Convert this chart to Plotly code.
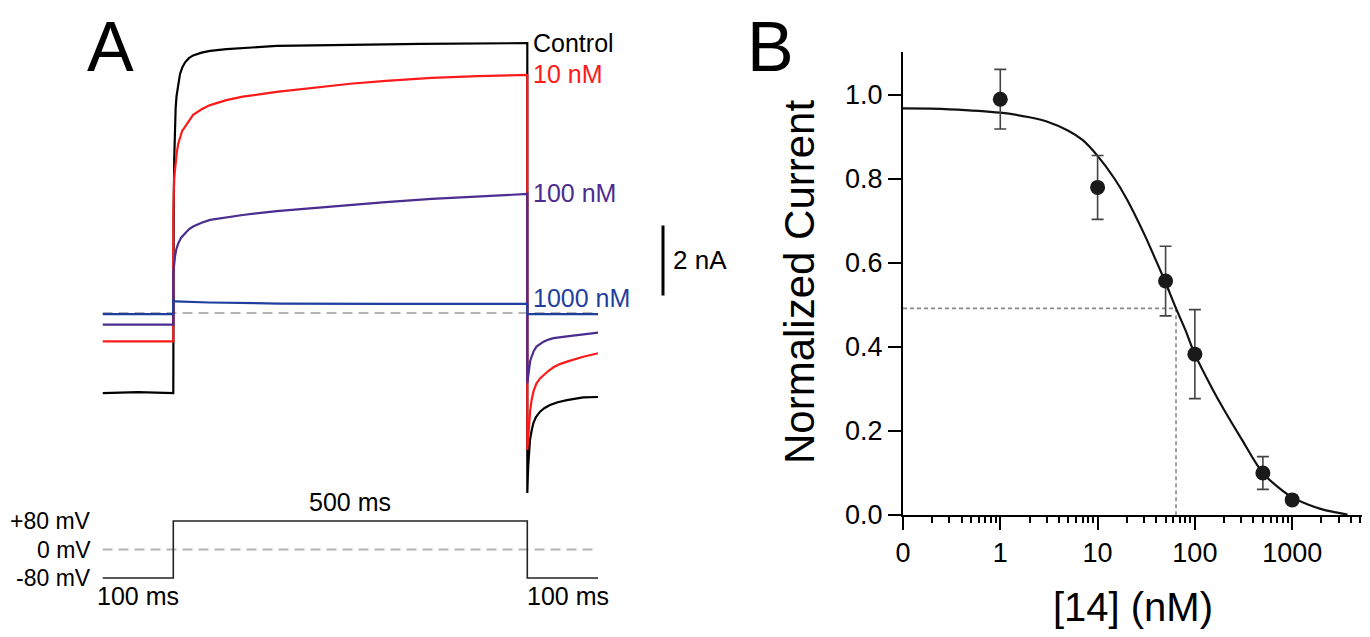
import plotly.graph_objects as go

W, H = 1370, 637          # reference frame
PAD = 8                   # page body margin around the plot div
FW, FH = W - PAD, H - PAD
FONT = "Liberation Sans, Arial, sans-serif"

# ---- Panel A: current traces (time in ms, current in nA) ----
t_control = [0, 50, 100, 100, 100.6, 101.3, 102.2, 103.3, 104.6, 106.5, 109.5, 113, 117, 122, 128, 140,
             152, 175, 198, 246, 350, 450, 600,
             600, 600.7, 601.4, 602.5, 603.8, 606, 608.5, 612, 618, 624, 632, 643, 656, 679, 700]
i_control = [-2.29, -2.26, -2.29, 1.0, 3.0, 4.4, 5.3, 5.85, 6.2, 6.5, 6.83, 7.03, 7.17, 7.28, 7.36, 7.44,
             7.49, 7.54, 7.57, 7.63, 7.66, 7.69, 7.71,
             -5.14, -4.7, -4.34, -3.95, -3.63, -3.37, -3.15, -2.98, -2.82, -2.72, -2.63, -2.55, -2.49, -2.41, -2.40]

t_10nM = [0, 100, 100, 100.5, 101.2, 102.4, 103.5, 104.8, 106.8, 109.5, 112.5, 116.5, 122, 128, 140, 152,
          175, 198, 246, 300, 350, 400, 465, 530, 600,
          600, 601, 602, 602.8, 604, 606, 609, 613, 618, 623, 630, 637, 646, 656, 679, 700]
i_10nM = [-0.81, -0.81, 2.8, 3.5, 3.85, 4.09, 4.34, 4.56, 4.82, 5.04, 5.2, 5.32, 5.5, 5.66, 5.82, 5.94,
          6.08, 6.18, 6.32, 6.43, 6.55, 6.63, 6.72, 6.77, 6.80,
          -3.91, -3.7, -3.45, -3.15, -2.8, -2.49, -2.22, -2.01, -1.87, -1.77, -1.65, -1.55, -1.46, -1.39, -1.25, -1.15]

t_100nM = [0, 100, 100, 100.6, 101.4, 102.4, 104, 107, 111, 116.5, 122, 128, 140, 152, 175, 198, 246,
           300, 350, 400, 465, 530, 600,
           600, 601, 602, 602.8, 604, 606, 609, 613, 618, 623, 630, 637, 656, 679, 700]
i_100nM = [-0.33, -0.33, 1.15, 1.35, 1.48, 1.61, 1.8, 1.99, 2.15, 2.28, 2.39, 2.47, 2.58, 2.66, 2.74, 2.80, 2.91,
           3.00, 3.09, 3.17, 3.26, 3.33, 3.40,
           -2.01, -1.85, -1.68, -1.53, -1.38, -1.25, -1.09, -0.96, -0.88, -0.82, -0.76, -0.72, -0.67, -0.62, -0.56]

t_1000nM = [0, 100, 100, 103, 150, 250, 400, 600, 600, 700]
i_1000nM = [-0.03, -0.03, 0.36, 0.33, 0.30, 0.27, 0.26, 0.26, -0.03, -0.03]

trace_names = ["Control", "10 nM", "100 nM", "1000 nM"]
trace_colors = ["#000000", "#ff1a1a", "#4b2c90", "#1f3f9f"]
label_levels = [7.71, 6.83, 3.43, 0.43]   # nA, where each label sits

# voltage protocol
t_volt = [0, 100, 100, 600, 600, 700]
v_volt = [-80, -80, 80, 80, -80, -80]

# ---- Panel B: concentration-response ----
conc = [1, 10, 50, 100, 500, 1000]
norm_current = [0.99, 0.78, 0.557, 0.383, 0.10, 0.036]
norm_sem = [0.071, 0.076, 0.083, 0.106, 0.039, 0.0]

fit_conc = [0.1, 0.3, 1, 2, 3, 5, 7, 10, 15, 20, 30, 40, 50, 64, 80, 100, 150, 200, 300, 500, 700,
            1000, 1500, 2000, 3000, 3700]
fit_norm = [0.968, 0.966, 0.958, 0.947, 0.937, 0.915, 0.893, 0.855, 0.800, 0.752, 0.670, 0.605, 0.553,
            0.492, 0.440, 0.383, 0.302, 0.250, 0.182, 0.100, 0.068, 0.042, 0.024, 0.014, 0.005, 0.001]
ic50 = 64
half_level = 0.492


def px(x):
    # reference pixel -> paper fraction
    return (x - PAD) / FW


def py(y):
    return 1 - (y - PAD) / FH


fig = go.Figure()

# zero-current reference
fig.add_trace(go.Scatter(x=[0, 700], y=[0, 0], mode="lines",
                         line=dict(color="#b4b4b4", width=2, dash="10px,6px"),
                         xaxis="x", yaxis="y", hoverinfo="skip"))

for t, i, name, color in zip([t_control, t_10nM, t_100nM, t_1000nM],
                             [i_control, i_10nM, i_100nM, i_1000nM],
                             trace_names, trace_colors):
    fig.add_trace(go.Scatter(x=t, y=i, mode="lines", name=name,
                             line=dict(color=color, width=2.2),
                             xaxis="x", yaxis="y"))

# voltage protocol
fig.add_trace(go.Scatter(x=[0, 700], y=[0, 0], mode="lines",
                         line=dict(color="#b4b4b4", width=2, dash="10px,6px"),
                         xaxis="x2", yaxis="y2", hoverinfo="skip"))
fig.add_trace(go.Scatter(x=t_volt, y=v_volt, mode="lines",
                         line=dict(color="#222222", width=1.6),
                         xaxis="x2", yaxis="y2"))

# Panel B
fig.add_trace(go.Scatter(x=[0.1, ic50, ic50], y=[half_level, half_level, 0], mode="lines",
                         line=dict(color="#8a8a8a", width=1.6, dash="4px,3px"),
                         xaxis="x3", yaxis="y3", hoverinfo="skip"))
fig.add_trace(go.Scatter(x=fit_conc, y=fit_norm, mode="lines",
                         line=dict(color="#111111", width=2.2, shape="spline"),
                         xaxis="x3", yaxis="y3"))
fig.add_trace(go.Scatter(x=conc, y=norm_current, mode="markers",
                         marker=dict(color="#1a1a1a", size=15),
                         error_y=dict(type="data", array=norm_sem, visible=True,
                                      color="#444444", thickness=1.6, width=6),
                         xaxis="x3", yaxis="y3"))

annotations = [
    dict(text="A", x=px(110), y=py(47), xref="paper", yref="paper", xanchor="center", yanchor="middle",
         showarrow=False, font=dict(size=70, color="black", family=FONT)),
    dict(text="B", x=px(770), y=py(47), xref="paper", yref="paper", xanchor="center", yanchor="middle",
         showarrow=False, font=dict(size=70, color="black", family=FONT)),
    dict(text="Normalized Current", x=px(799), y=py(282), xref="paper", yref="paper",
         xanchor="center", yanchor="middle", textangle=-90,
         showarrow=False, font=dict(size=42, color="black", family=FONT)),
    dict(text="2 nA", x=px(671), y=1.5, xref="paper", yref="y", xanchor="left",
         showarrow=False, font=dict(size=26, color="black", family=FONT)),
    dict(text="500 ms", x=350, y=80, xref="x2", yref="y2", yanchor="bottom", yshift=3,
         showarrow=False, font=dict(size=25, color="black", family=FONT)),
    dict(text="100 ms", x=0, y=-80, xref="x2", yref="y2", xanchor="left", yanchor="top",
         xshift=-8, yshift=-2, showarrow=False, font=dict(size=25, color="black", family=FONT)),
    dict(text="100 ms", x=600, y=-80, xref="x2", yref="y2", xanchor="left", yanchor="top",
         xshift=-2, yshift=-2, showarrow=False, font=dict(size=25, color="black", family=FONT)),
]
for lbl, v in zip(["+80 mV", "0 mV", "-80 mV"], [80, 0, -80]):
    annotations.append(dict(text=lbl, x=px(93), y=v, xref="paper", yref="y2", xanchor="right",
                            showarrow=False, font=dict(size=23, color="black", family=FONT)))
for name, color, lvl in zip(trace_names, trace_colors, label_levels):
    annotations.append(dict(text=name, x=600, y=lvl, xref="x", yref="y", xanchor="left",
                            xshift=4, showarrow=False, font=dict(size=25, color=color, family=FONT)))

# scale bar (2 nA)
shapes = [dict(type="line", xref="paper", yref="y", x0=px(663), x1=px(663), y0=0.5, y1=2.5,
               line=dict(color="black", width=3))]

hidden = dict(visible=False, showgrid=False, zeroline=False)

minor_vals = [m * 10 ** e for e in range(-1, 4) for m in range(2, 10)]

fig.update_layout(
    width=FW, height=FH,
    margin=dict(l=0, r=0, t=0, b=0, autoexpand=False),
    paper_bgcolor="white", plot_bgcolor="white",
    showlegend=False,
    font=dict(family=FONT, color="black"),
    xaxis=dict(domain=[px(102.5), px(598.1)], range=[0, 700], anchor="y", **hidden),
    yaxis=dict(domain=[py(500), py(20)], range=[-5.343, 8.371], anchor="x", **hidden),
    xaxis2=dict(domain=[px(102.5), px(598.1)], range=[0, 700], anchor="y2", **hidden),
    yaxis2=dict(domain=[py(595), py(505)], range=[-127.7, 124.9], anchor="x2", **hidden),
    xaxis3=dict(domain=[px(903), px(1363)], type="log", range=[-1, 3.728], anchor="y3",
                showline=True, linecolor="black", linewidth=2, showgrid=False, zeroline=False,
                tickmode="array", tickvals=[0.1, 1, 10, 100, 1000],
                ticktext=["0", "1", "10", "100", "1000"],
                ticks="outside", ticklen=13, tickwidth=2, tickcolor="black",
                tickfont=dict(size=27, family=FONT),
                minor=dict(tickmode="array", tickvals=minor_vals, ticks="outside",
                           ticklen=6, tickwidth=2, tickcolor="black"),
                title=dict(text="[14] (nM)", font=dict(size=40, family=FONT), standoff=26)),
    yaxis3=dict(domain=[py(515), py(52)], range=[0, 1.1024], anchor="x3",
                showline=True, linecolor="black", linewidth=2, showgrid=False, zeroline=False,
                tickmode="array", tickvals=[0, 0.2, 0.4, 0.6, 0.8, 1.0], tickformat=".1f",
                ticks="outside", ticklen=13, tickwidth=2, tickcolor="black",
                tickfont=dict(size=27, family=FONT)),
    annotations=annotations,
    shapes=shapes,
)

fig.write_html("out.html")
